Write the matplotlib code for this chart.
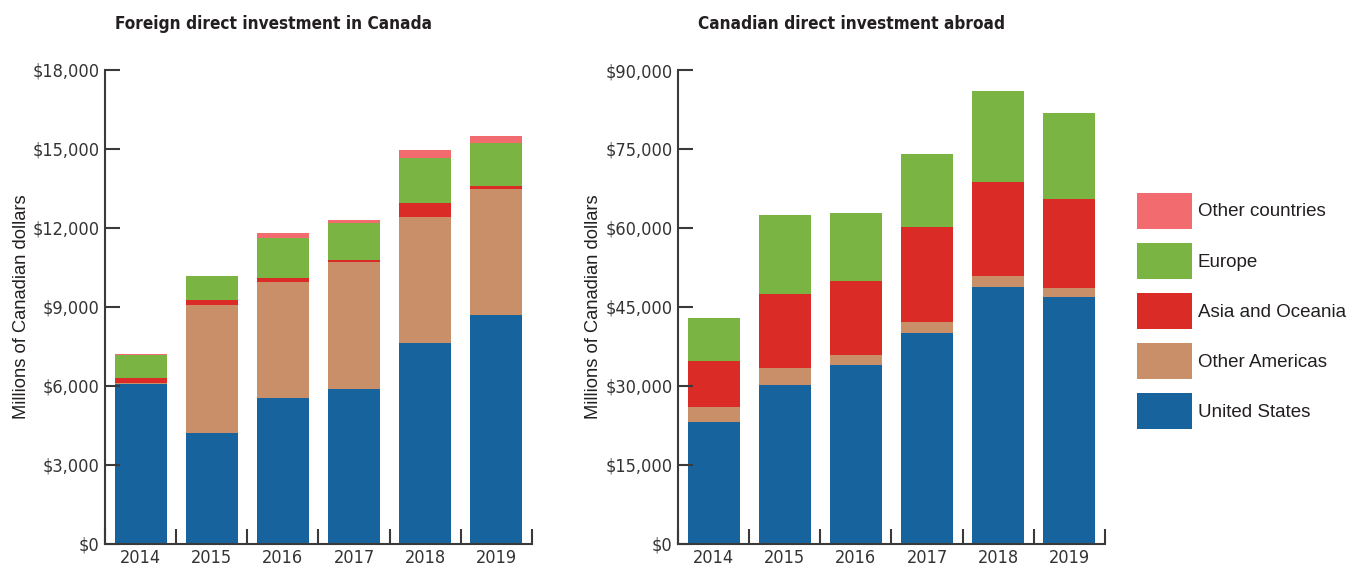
import numpy as np
import matplotlib
matplotlib.use("Agg")
import matplotlib.pyplot as plt
from matplotlib.patches import Patch
from matplotlib.ticker import FuncFormatter

years = ["2014", "2015", "2016", "2017", "2018", "2019"]
series_names = ["United States", "Other Americas", "Asia and Oceania", "Europe", "Other countries"]
colors = ["#17639e", "#c98f69", "#da2b27", "#7ab543", "#f26b6e"]

# Foreign direct investment in Canada (millions of CAD)
fdi_us = [6080, 4200, 5530, 5880, 7620, 8680]
fdi_other_americas = [40, 4860, 4410, 4820, 4790, 4780]
fdi_asia_oceania = [180, 190, 150, 80, 530, 150]
fdi_europe = [870, 910, 1530, 1400, 1720, 1600]
fdi_other = [40, 0, 180, 110, 290, 300]

# Canadian direct investment abroad (millions of CAD)
cdia_us = [23100, 30130, 33930, 40000, 48740, 46840]
cdia_other_americas = [2860, 3230, 1900, 2090, 2080, 1700]
cdia_asia_oceania = [8740, 14040, 14040, 18040, 17850, 16860]
cdia_europe = [8150, 15000, 12900, 13840, 17280, 16500]
cdia_other = [0, 0, 0, 0, 0, 0]

fdi = [fdi_us, fdi_other_americas, fdi_asia_oceania, fdi_europe, fdi_other]
cdia = [cdia_us, cdia_other_americas, cdia_asia_oceania, cdia_europe, cdia_other]

text_color = "#231f20"
regular = ["Liberation Sans", "DejaVu Sans"]

fig = plt.figure(figsize=(13.48, 5.67), dpi=100)
W, H = 1348, 567


def draw_panel(ax, data, ymax, step):
    x = np.arange(len(years))
    bottom = np.zeros(len(years))
    for vals, c in zip(data, colors):
        vals = np.array(vals, dtype=float)
        ax.bar(x, vals, bottom=bottom, width=0.73, color=c, linewidth=0)
        bottom += vals
    ax.set_xlim(-0.5, len(years) - 0.5)
    ax.set_ylim(0, ymax)
    ax.spines["top"].set_visible(False)
    ax.spines["right"].set_visible(False)
    for s in ("left", "bottom"):
        ax.spines[s].set_linewidth(1.5)
        ax.spines[s].set_color("#3a3a3a")
    ax.set_yticks(np.arange(0, ymax + 1, step))
    ax.yaxis.set_major_formatter(FuncFormatter(lambda v, p: "${:,.0f}".format(v)))
    # ticks sit between the bars, year labels in the middle
    ax.set_xticks(np.arange(-0.5, len(years), 1.0))
    ax.set_xticklabels([])
    ax.set_xticks(x, minor=True)
    ax.set_xticklabels(years, minor=True)
    ax.tick_params(axis="x", which="major", direction="in", length=11, width=1.5, color="#3a3a3a")
    ax.tick_params(axis="x", which="minor", length=0, pad=4)
    ax.tick_params(axis="y", direction="in", length=11, width=1.5, color="#3a3a3a", pad=4)
    for lab in ax.get_xticklabels(minor=True) + ax.get_yticklabels():
        lab.set_family("DejaVu Sans")
        lab.set_fontstretch("condensed")
        lab.set_fontsize(13)
        lab.set_color("#333333")
    ax.set_ylabel("Millions of Canadian dollars", family=regular, fontsize=13.2,
                  color=text_color, labelpad=2)


ax1 = fig.add_axes([105 / W, 23.3 / H, 427 / W, 473.7 / H])
draw_panel(ax1, fdi, 18000, 3000)
ax2 = fig.add_axes([678 / W, 23.3 / H, 427 / W, 473.7 / H])
draw_panel(ax2, cdia, 90000, 15000)

fig.text(115 / W, 1 - 24 / H, "Foreign direct investment in Canada", family="DejaVu Sans",
         stretch="condensed", weight="bold", fontsize=12.3, color=text_color,
         ha="left", va="center")
fig.text(698 / W, 1 - 24 / H, "Canadian direct investment abroad", family="DejaVu Sans",
         stretch="condensed", weight="bold", fontsize=12.3, color=text_color,
         ha="left", va="center")

handles = [Patch(facecolor=c, edgecolor="none") for c in colors]
leg = fig.legend(handles[::-1], series_names[::-1], loc="upper left",
                 bbox_to_anchor=(1120 / W, 1 - 176 / H), frameon=False,
                 handlelength=2.95, handleheight=2.55, handletextpad=0.3,
                 labelspacing=0.77, prop={"family": regular, "size": 13.5})
for t in leg.get_texts():
    t.set_color(text_color)

fig.savefig("out.png", dpi=100)
